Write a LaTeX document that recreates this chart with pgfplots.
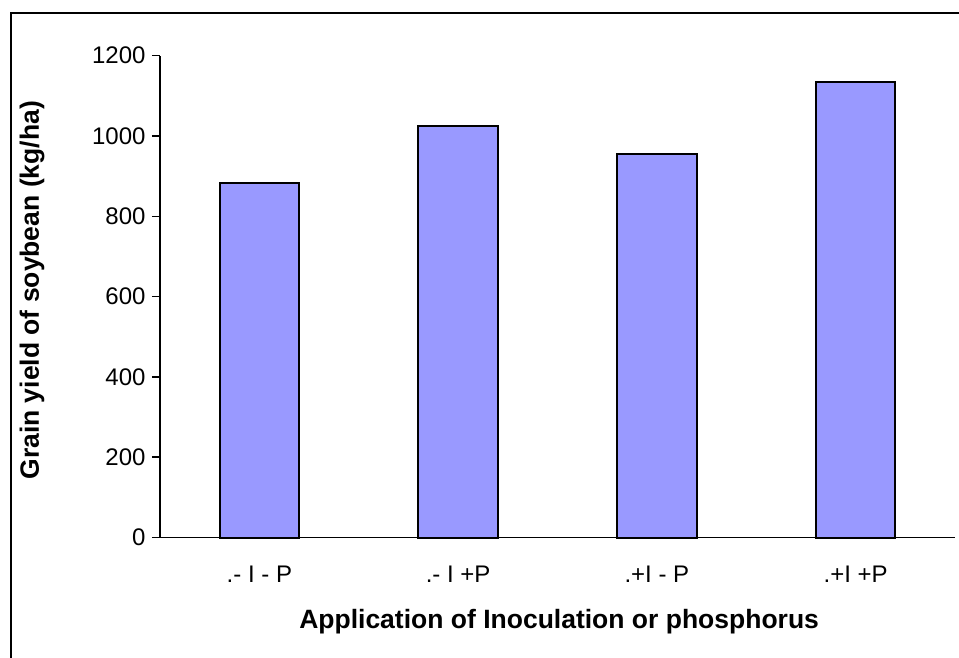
\documentclass[border=0pt]{standalone}
\usepackage{pgfplots}
\pgfplotsset{compat=1.18}
\usepackage{fontspec}
\setmainfont{Liberation Sans}
\definecolor{barblue}{HTML}{9999FF}
\begin{document}
\begin{tikzpicture}
\path[use as bounding box] (0pt,0pt) rectangle (959pt,657pt);
\draw[line width=2pt] (11pt,-5pt) -- (11pt,644pt) -- (965pt,644pt);
\coordinate (origin) at (160pt,119.5pt);
\begin{axis}[
  at={(origin)}, anchor=south west,
  width=795pt, height=481.8pt, scale only axis,
  xmin=-0.5, xmax=3.5, ymin=0, ymax=1200,
  axis x line*=bottom, axis y line*=left,
  axis line style={line width=1.6pt, -},
  ytick={0,200,...,1200},
  /pgf/number format/1000 sep={},
  xtick={0,1,2,3},
  xticklabels={{.- I - P},{.- I +P},{.+I - P},{.+I +P}},
  major x tick style={draw=none},
  extra x ticks={-0.5,0.5,1.5,2.5,3.5},
  extra x tick labels={},
  extra x tick style={major tick length=9pt, tick style={line width=1.6pt, black}},
  tick align=outside,
  major tick length=8pt,
  tick style={line width=1.6pt, black},
  /pgf/number format/assume math mode=true,
  ticklabel style={font=\fontsize{24}{28}\selectfont},
  yticklabel style={xshift=-3pt},
  xticklabel style={yshift=-17pt},
  xlabel={Application of Inoculation or phosphorus},
  ylabel={Grain yield of soybean (kg/ha)},
  label style={font=\bfseries\fontsize{26.5}{31}\selectfont},
  xlabel style={at={(axis description cs:0.502,-0.175)}, anchor=center},
  ylabel style={at={(axis description cs:-0.161,0.513)}, anchor=center, rotate=0},
  clip=false,
]
\addplot[ybar, bar width=0.4, fill=barblue, draw=black, line width=2pt]
  coordinates {(0,884) (1,1025) (2,955) (3,1134)};
\end{axis}
\end{tikzpicture}
\end{document}
